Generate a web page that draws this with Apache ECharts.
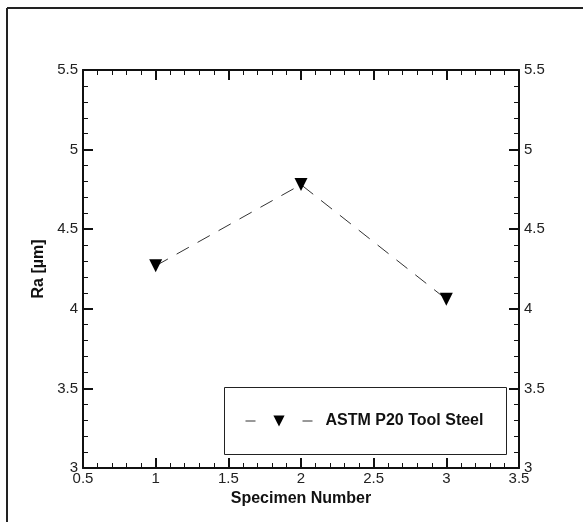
<!DOCTYPE html>
<html>
<head>
<meta charset="utf-8">
<script src="https://cdn.jsdelivr.net/npm/echarts@6/dist/echarts.min.js"></script>
<style>
  html, body { margin: 0; padding: 0; background: #fff; }
  #chart { width: 583px; height: 522px; }
</style>
</head>
<body>
<div id="chart"></div>
<script>
// data
const specimens = [1, 2, 3];
const roughness = [4.27, 4.78, 4.06];
const seriesName = 'ASTM P20 Tool Steel';

const points = specimens.map((s, i) => [s, roughness[i]]);

const chart = echarts.init(document.getElementById('chart'));

const font = 'Liberation Sans, Arial, sans-serif';

const baseAxis = {
  type: 'value',
  interval: 0.5,
  axisLine: { show: true, onZero: false, lineStyle: { color: '#111', width: 2 } },
  axisTick: { show: true, inside: true, length: 10, lineStyle: { color: '#111', width: 2 } },
  minorTick: { show: true, splitNumber: 5, length: 5, lineStyle: { color: '#111', width: 1 } },
  splitLine: { show: false },
  axisLabel: { color: '#222', fontFamily: font, fontSize: 15 }
};

const option = {
  animation: false,
  backgroundColor: '#fff',
  grid: { left: 83, right: 64, top: 70, bottom: 54 },
  xAxis: [
    Object.assign({}, baseAxis, {
      min: 0.5, max: 3.5, position: 'bottom',
      name: 'Specimen Number', nameLocation: 'middle', nameGap: 17,
      nameTextStyle: { color: '#111', fontFamily: font, fontSize: 16, fontWeight: 'bold' },
      axisLabel: Object.assign({}, baseAxis.axisLabel, { margin: 3, showMinLabel: true, showMaxLabel: true })
    }),
    Object.assign({}, baseAxis, {
      min: 0.5, max: 3.5, position: 'top',
      axisLabel: { show: false }
    })
  ],
  yAxis: [
    Object.assign({}, baseAxis, {
      min: 3, max: 5.5, position: 'left',
      name: 'Ra [µm]', nameLocation: 'middle', nameGap: 36, nameRotate: 90,
      nameTextStyle: { color: '#111', fontFamily: font, fontSize: 16, fontWeight: 'bold' },
      axisLabel: Object.assign({}, baseAxis.axisLabel, { margin: 5 })
    }),
    Object.assign({}, baseAxis, {
      min: 3, max: 5.5, position: 'right',
      axisLabel: Object.assign({}, baseAxis.axisLabel, { margin: 5 })
    })
  ],
  legend: {
    show: true,
    left: 245,
    top: 413,
    itemWidth: 67,
    itemHeight: 14,
    itemGap: 10,
    padding: 0,
    lineStyle: { type: [10, 47], width: 1, color: '#333' },
    textStyle: { color: '#111', fontFamily: font, fontSize: 16, fontWeight: 'bold', padding: [0, 0, 0, 8] },
    data: [seriesName]
  },
  graphic: [
    { type: 'rect', left: 222, top: 385, shape: { width: 282, height: 67 },
      style: { fill: 'none', stroke: '#222', lineWidth: 1 }, z: 1 },
    { type: 'line', shape: { x1: 7, y1: 8, x2: 583, y2: 8 }, style: { stroke: '#222', lineWidth: 2 } },
    { type: 'line', shape: { x1: 7, y1: 8, x2: 7, y2: 522 }, style: { stroke: '#222', lineWidth: 2 } }
  ],
  series: [{
    name: seriesName,
    type: 'line',
    data: points,
    symbol: 'triangle',
    symbolRotate: 180,
    symbolSize: 13,
    itemStyle: { color: '#000' },
    lineStyle: { color: '#333', width: 1, type: [14, 10] }
  }]
};

chart.setOption(option);
</script>
</body>
</html>
